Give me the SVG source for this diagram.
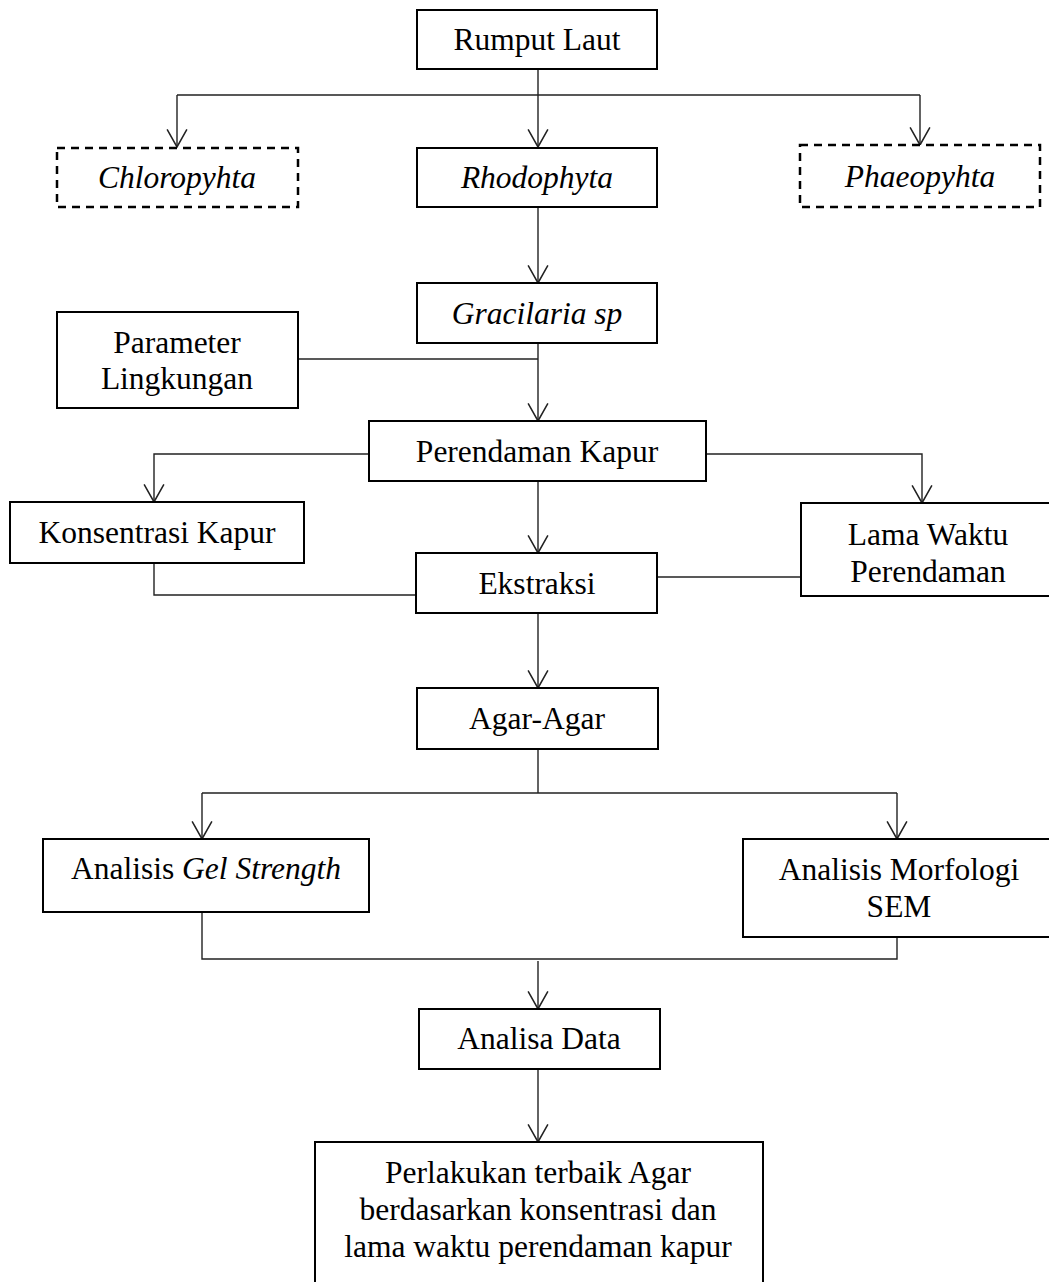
<svg xmlns="http://www.w3.org/2000/svg" width="1049" height="1282" viewBox="0 0 1049 1282">
<style>
.box{fill:#fff;stroke:#000;stroke-width:2}
.dbox{fill:#fff;stroke:#000;stroke-width:2.5;stroke-dasharray:8 6}
.t{font-family:"Liberation Serif","Times New Roman",serif;font-size:31.5px;fill:#000;text-anchor:middle}
.i{font-style:italic}
.c{fill:none;stroke:#222;stroke-width:1.4}
</style>
<defs>
<marker id="arr" markerUnits="userSpaceOnUse" markerWidth="20" markerHeight="22" viewBox="-17 -10 18 20" refX="0" refY="0" orient="auto">
<path d="M-16,-9 L0,0 L-16,9" fill="none" stroke="#222" stroke-width="1.4"/>
</marker>
</defs>
<rect width="1049" height="1282" fill="#fff"/>
<g id="connectors">
<path class="c" d="M538,69 V95 M177,95 H920"/>
<path class="c" d="M177,95 V147" marker-end="url(#arr)"/>
<path class="c" d="M538,95 V147" marker-end="url(#arr)"/>
<path class="c" d="M920,95 V145" marker-end="url(#arr)"/>
<path class="c" d="M538,207 V283" marker-end="url(#arr)"/>
<path class="c" d="M298,359 H538"/>
<path class="c" d="M538,343 V421" marker-end="url(#arr)"/>
<path class="c" d="M369,454 H154 V502" marker-end="url(#arr)"/>
<path class="c" d="M706,454 H922 V503" marker-end="url(#arr)"/>
<path class="c" d="M538,481 V553" marker-end="url(#arr)"/>
<path class="c" d="M154,563 V595 H416"/>
<path class="c" d="M801,577 H657"/>
<path class="c" d="M538,613 V688" marker-end="url(#arr)"/>
<path class="c" d="M538,749 V793 M202,793 H897"/>
<path class="c" d="M202,793 V839" marker-end="url(#arr)"/>
<path class="c" d="M897,793 V839" marker-end="url(#arr)"/>
<path class="c" d="M202,912 V959 H897 V937"/>
<path class="c" d="M538,961 V1009" marker-end="url(#arr)"/>
<path class="c" d="M538,1069 V1142" marker-end="url(#arr)"/>
</g>
<g id="rumput-laut"><rect class="box" x="417" y="10" width="240" height="59"/><text class="t" x="537" y="50">Rumput Laut</text></g>
<g id="chloropyhta"><rect class="dbox" x="57" y="148" width="241" height="59"/><text class="t i" x="177" y="188">Chloropyhta</text></g>
<g id="rhodophyta"><rect class="box" x="417" y="148" width="240" height="59"/><text class="t i" x="537" y="188">Rhodophyta</text></g>
<g id="phaeopyhta"><rect class="dbox" x="800" y="145" width="240" height="62"/><text class="t i" x="920" y="187">Phaeopyhta</text></g>
<g id="gracilaria"><rect class="box" x="417" y="283" width="240" height="60"/><text class="t i" x="537" y="324">Gracilaria sp</text></g>
<g id="parameter-lingkungan"><rect class="box" x="57" y="312" width="241" height="96"/><text class="t" x="177" y="353">Parameter</text><text class="t" x="177" y="389">Lingkungan</text></g>
<g id="perendaman-kapur"><rect class="box" x="369" y="421" width="337" height="60"/><text class="t" x="537" y="462">Perendaman Kapur</text></g>
<g id="konsentrasi-kapur"><rect class="box" x="10" y="502" width="294" height="61"/><text class="t" x="157" y="543">Konsentrasi Kapur</text></g>
<g id="lama-waktu"><rect class="box" x="801" y="503" width="260" height="93"/><text class="t" x="928" y="545">Lama Waktu</text><text class="t" x="928" y="582">Perendaman</text></g>
<g id="ekstraksi"><rect class="box" x="416" y="553" width="241" height="60"/><text class="t" x="537" y="594">Ekstraksi</text></g>
<g id="agar-agar"><rect class="box" x="417" y="688" width="241" height="61"/><text class="t" x="537" y="729">Agar-Agar</text></g>
<g id="gel-strength"><rect class="box" x="43" y="839" width="326" height="73"/><text class="t" x="206" y="879">Analisis <tspan class="i">Gel Strength</tspan></text></g>
<g id="morfologi-sem"><rect class="box" x="743" y="839" width="320" height="98"/><text class="t" x="899" y="880">Analisis Morfologi</text><text class="t" x="899" y="917">SEM</text></g>
<g id="analisa-data"><rect class="box" x="419" y="1009" width="241" height="60"/><text class="t" x="539" y="1049">Analisa Data</text></g>
<g id="perlakukan"><rect class="box" x="315" y="1142" width="448" height="200"/><text class="t" x="538" y="1183">Perlakukan terbaik Agar</text><text class="t" x="538" y="1220">berdasarkan konsentrasi dan</text><text class="t" x="538" y="1257">lama waktu perendaman kapur</text></g>
</svg>
